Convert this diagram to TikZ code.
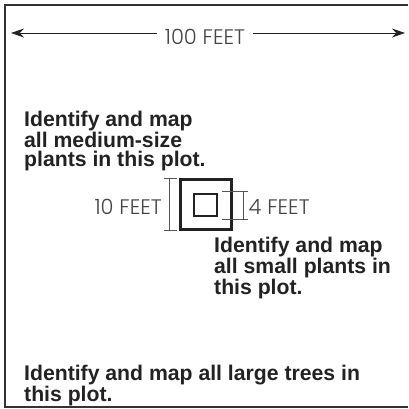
\documentclass[tikz,border=0pt]{standalone}
\usepackage{fontspec}
\setmainfont{Liberation Sans}
\newfontfamily\lightfont{Poppins}[UprightFont=* Light]
\usetikzlibrary{arrows.meta}
\definecolor{ink}{HTML}{222222}
\definecolor{framec}{HTML}{333333}
\definecolor{dim}{HTML}{444444}
\definecolor{dimrule}{HTML}{555555}
\begin{document}
\begin{tikzpicture}[x=1pt,y=-1pt,
  boldlabel/.style={font=\bfseries\fontsize{21.2}{19}\selectfont, text=ink, align=left, inner sep=0pt, anchor=base west},
  dimtext/.style={font=\lightfont\fontsize{21}{21}\selectfont, text=dim, inner sep=0pt},
  dimline/.style={draw=dimrule, line width=0.8pt},
  plotbox/.style={draw=ink, line width=2.6pt, inner sep=0pt},
  arrowline/.style={draw=ink, line width=0.9pt, -{Stealth[length=13pt,width=9pt]}},
]
\useasboundingbox (0,0) rectangle (408,409);
% frame
\draw[framec, line width=2pt] (408,5) -- (5,5) -- (5,407) -- (408,407);
% 100 feet
\node[dimtext] (hundred) at (205,37) {100 FEET};
\coordinate (lt) at (11,33);
\coordinate (rt) at (405,33);
\draw[arrowline] ([xshift=-8pt]hundred.west |- lt) -- (lt);
\draw[arrowline] ([xshift=8pt]hundred.east |- rt) -- (rt);
% squares
\node[plotbox, minimum width=50.8pt, minimum height=49.8pt] (outer) at (206,204.5) {};
\node[plotbox, minimum width=23pt, minimum height=22pt] (inner) at (205.5,205) {};
% 10 feet bracket
\draw[dimline] (164,178.5) -- (176.5,178.5);
\draw[dimline] (169.5,178.5) -- (169.5,230.5);
\draw[dimline] (164,230.5) -- (176.5,230.5);
\node[dimtext, anchor=east] (ten) at (162,207) {10 FEET};
% 4 feet bracket
\draw[dimline] (221.5,191) -- (248,191);
\draw[dimline] (243.5,191) -- (243.5,219.5);
\draw[dimline] (221.5,219.5) -- (248,219.5);
\node[dimtext, anchor=west] (four) at (248.5,207) {4 FEET};
% texts (anchor = baseline of last line)
\node[boldlabel] (medium) at (24,166) {Identify and map\\all medium-size\\plants in this plot.};
\node[boldlabel] (small) at (214,294) {Identify and map\\all small plants in\\this plot.};
\node[boldlabel] (large) at (24,401) {Identify and map all large trees in\\this plot.};
\end{tikzpicture}
\end{document}
